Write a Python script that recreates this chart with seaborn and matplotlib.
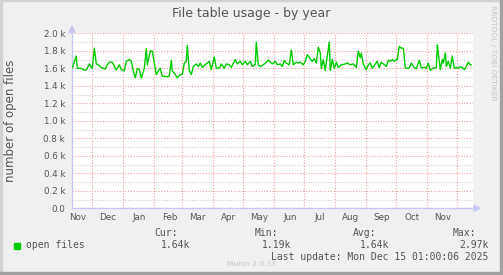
import numpy as np
import pandas as pd
import matplotlib
matplotlib.use("Agg")
import matplotlib.pyplot as plt
import matplotlib.dates as mdates
from matplotlib.ticker import FixedLocator, FixedFormatter, NullFormatter
from matplotlib.patches import Rectangle, Polygon
import seaborn as sns

# ---------------- data ----------------
# days relative to 2024-12-01
days = [-20, -16, -15, -11, -8, -6, -3, -1, 0, 2, 4, 6, 9, 13, 15, 17, 20, 23, 24, 27,
        29, 32, 34, 37, 39, 41, 43, 45, 47, 49, 52, 54, 55, 58, 60, 62, 64, 66, 68, 70,
        74, 77, 79, 80, 83, 85, 88, 90, 92, 94, 95, 97, 99, 101, 104, 106, 108, 110, 113, 115,
        117, 119, 122, 124, 127, 129, 132, 134, 137, 139, 143, 145, 148, 150, 153, 155, 158, 160, 163, 164,
        166, 168, 171, 174, 176, 178, 180, 183, 185, 188, 190, 192, 194, 197, 199, 201, 204, 206, 208, 211,
        213, 215, 218, 220, 222, 224, 226, 228, 229, 231, 233, 234, 237, 238, 240, 242, 244, 246, 249, 253,
        255, 258, 261, 264, 266, 268, 269, 271, 274, 276, 278, 280, 283, 285, 287, 289, 292, 294, 296, 298,
        300, 302, 304, 305, 307, 309, 311, 313, 315, 317, 319, 322, 324, 327, 329, 332, 334, 336, 338, 341,
        344, 345, 347, 348, 350, 351, 353, 354, 356, 358, 360, 362, 364, 366, 368, 370, 372, 374, 376, 378,
        379]
open_files = [1605, 1740, 1600, 1600, 1580, 1580, 1650, 1610, 1600, 1830, 1650, 1640, 1610, 1590, 1640, 1670, 1670, 1600, 1580, 1640,
              1585, 1570, 1680, 1700, 1680, 1570, 1490, 1600, 1585, 1490, 1600, 1825, 1640, 1800, 1795, 1660, 1530, 1570, 1600, 1510,
              1505, 1510, 1690, 1570, 1530, 1490, 1530, 1530, 1660, 1680, 1860, 1570, 1530, 1620, 1650, 1620, 1660, 1610, 1640, 1660,
              1680, 1585, 1730, 1600, 1605, 1650, 1600, 1650, 1640, 1610, 1700, 1650, 1680, 1640, 1680, 1640, 1680, 1620, 1640, 1900,
              1640, 1620, 1640, 1670, 1695, 1670, 1650, 1680, 1640, 1650, 1620, 1690, 1660, 1640, 1810, 1640, 1670, 1660, 1670, 1640,
              1680, 1755, 1710, 1680, 1710, 1660, 1840, 1775, 1600, 1700, 1575, 1660, 1900, 1575, 1700, 1600, 1670, 1610, 1640, 1650,
              1660, 1640, 1650, 1610, 1795, 1720, 1775, 1650, 1585, 1640, 1660, 1600, 1650, 1680, 1605, 1670, 1640, 1620, 1690, 1680,
              1700, 1680, 1700, 1700, 1850, 1830, 1830, 1605, 1600, 1605, 1660, 1605, 1600, 1690, 1605, 1610, 1600, 1660, 1575, 1605,
              1605, 1870, 1680, 1585, 1700, 1660, 1775, 1620, 1680, 1600, 1740, 1600, 1610, 1600, 1620, 1610, 1585, 1620, 1670, 1640,
              1640]
y_ticks = [0, 200, 400, 600, 800, 1000, 1200, 1400, 1600, 1800, 2000]
y_tick_labels = ["0.0", "0.2 k", "0.4 k", "0.6 k", "0.8 k", "1.0 k", "1.2 k",
                 "1.4 k", "1.6 k", "1.8 k", "2.0 k"]
month_labels = ["Nov", "Dec", "Jan", "Feb", "Mar", "Apr", "May", "Jun",
                "Jul", "Aug", "Sep", "Oct", "Nov"]
legend_headers = ["Cur:", "Min:", "Avg:", "Max:"]
legend_values = ["1.64k", "1.19k", "1.64k", "2.97k"]
series_name = "open files"
title = "File table usage - by year"
y_label = "number of open files"
last_update = "Last update: Mon Dec 15 01:00:06 2025"

# ---------------- figure ----------------
W, H = 503, 275
sns.set_style("white")
plt.rcParams["font.family"] = ["DejaVu Sans"]

BG = "#F0F0F0"
TXT = "#555555"
fig = plt.figure(figsize=(W / 100, H / 100), dpi=100, facecolor=BG)

def fx(x):
    return x / W

def fy(y):
    return 1 - y / H

L, R, T, B = 72, 473, 33.3, 208.3
ax = fig.add_axes([fx(L), fy(B), (R - L) / W, (B - T) / H])
ax.set_facecolor("white")

base = pd.Timestamp("2024-12-01")
df = pd.DataFrame({
    "date": base + pd.to_timedelta(days, unit="D"),
    series_name: open_files,
})
sns.lineplot(data=df, x="date", y=series_name, ax=ax, color="#00CC00",
             linewidth=1.0, zorder=3)

ax.set_xlim(base - pd.Timedelta(days=20.3), base + pd.Timedelta(days=380.7))
ax.set_ylim(0, 2000)
ax.set_xlabel("")
ax.set_ylabel("")

# y ticks / grid
ax.set_yticks(y_ticks)
ax.set_yticklabels(y_tick_labels)
ax.yaxis.set_minor_locator(FixedLocator(list(range(100, 2000, 200))))
ax.tick_params(axis="y", which="both", length=0, pad=5, labelsize=6.3,
               labelcolor=TXT)

# x ticks: month starts for grid, mid-months for labels
month_starts = pd.date_range("2024-12-01", "2025-12-01", freq="MS")
mid_months = pd.date_range("2024-11-01", "2025-11-01", freq="MS") + pd.Timedelta(days=15.5)
ax.xaxis.set_major_locator(FixedLocator(mdates.date2num(month_starts)))
ax.xaxis.set_major_formatter(NullFormatter())
ax.xaxis.set_minor_locator(FixedLocator(mdates.date2num(mid_months)))
ax.xaxis.set_minor_formatter(FixedFormatter(month_labels))
ax.tick_params(axis="x", which="major", length=2, width=0.8, color="#F0A0A0")
ax.tick_params(axis="x", which="minor", length=0, pad=3.5, labelsize=6.3,
               labelcolor=TXT)

dot = (0, (1, 1.5))
ax.grid(which="major", axis="y", color="#F0A0A0", linestyle=dot, linewidth=0.8)
ax.grid(which="minor", axis="y", color="#CFCFCF", linestyle=dot, linewidth=0.8)
ax.grid(which="major", axis="x", color="#F0A0A0", linestyle=dot, linewidth=0.8)
ax.set_axisbelow(True)

for s in ["top", "right"]:
    ax.spines[s].set_visible(False)
for s in ["left", "bottom"]:
    ax.spines[s].set_color("#C8C8F4")
    ax.spines[s].set_linewidth(1.0)

# axis arrows
AX_COL = "#C8C8F4"
fig.add_artist(Polygon([(fx(L - 3), fy(T - 1)), (fx(L + 3), fy(T - 1)), (fx(L), fy(T - 7))],
                       closed=True, color=AX_COL, transform=fig.transFigure))
fig.add_artist(Rectangle((fx(L) - 0.5 / W, fy(T)), 1 / W, 1.5 / H, color=AX_COL,
                         transform=fig.transFigure))
fig.add_artist(Polygon([(fx(R + 1), fy(B - 3)), (fx(R + 1), fy(B + 3)), (fx(R + 7), fy(B))],
                       closed=True, color=AX_COL, transform=fig.transFigure))

# title and y label
fig.text(fx(251.5), fy(13.5), title, ha="center", va="center", fontsize=9, color=TXT)
fig.text(fx(11), fy(120.8), y_label, ha="center", va="center", rotation=90,
         fontsize=8.5, color=TXT)

# watermark
fig.text(fx(493), fy(5), "RRDTOOL / TOBI OETIKER", rotation=270, ha="center", va="top",
         fontsize=5.4, color="#C4C4C4")
fig.text(fx(251.5), fy(264.5), "Munin 2.0.33", ha="center", va="center",
         fontsize=5.4, color="#C8C8C8")

# legend
mono = "DejaVu Sans Mono"
fig.add_artist(Rectangle((fx(14), fy(248.5)), 6 / W, 6 / H, color="#00CC00",
                         transform=fig.transFigure))
fig.text(fx(26.5), fy(245.5), series_name, ha="left", va="center", family=mono,
         fontsize=7, color=TXT)
hdr_x = [177.7, 277.7, 376.7, 475.7]
val_x = [190.7, 291.0, 389.3, 488.7]
for hx, vx, h, v in zip(hdr_x, val_x, legend_headers, legend_values):
    fig.text(fx(hx), fy(233.5), h, ha="right", va="center", family=mono,
             fontsize=7, color=TXT)
    fig.text(fx(vx), fy(245.5), v, ha="right", va="center", family=mono,
             fontsize=7, color=TXT)
fig.text(fx(488.7), fy(257.5), last_update, ha="right", va="center", family=mono,
         fontsize=7, color=TXT)

# frame borders
fig.add_artist(Rectangle((0, 0), 2 / W, 1, color="#D2D2D2", transform=fig.transFigure))
fig.add_artist(Rectangle((0, 1 - 1 / H), 1, 1 / H, color="#D2D2D2", transform=fig.transFigure))
fig.add_artist(Rectangle((1 - 3 / W, 0), 3 / W, 1, color="#A0A0A0", transform=fig.transFigure))
fig.add_artist(Rectangle((0, 0), 1, 3 / H, color="#A0A0A0", transform=fig.transFigure))

fig.savefig("out.png", dpi=100, facecolor=BG)
